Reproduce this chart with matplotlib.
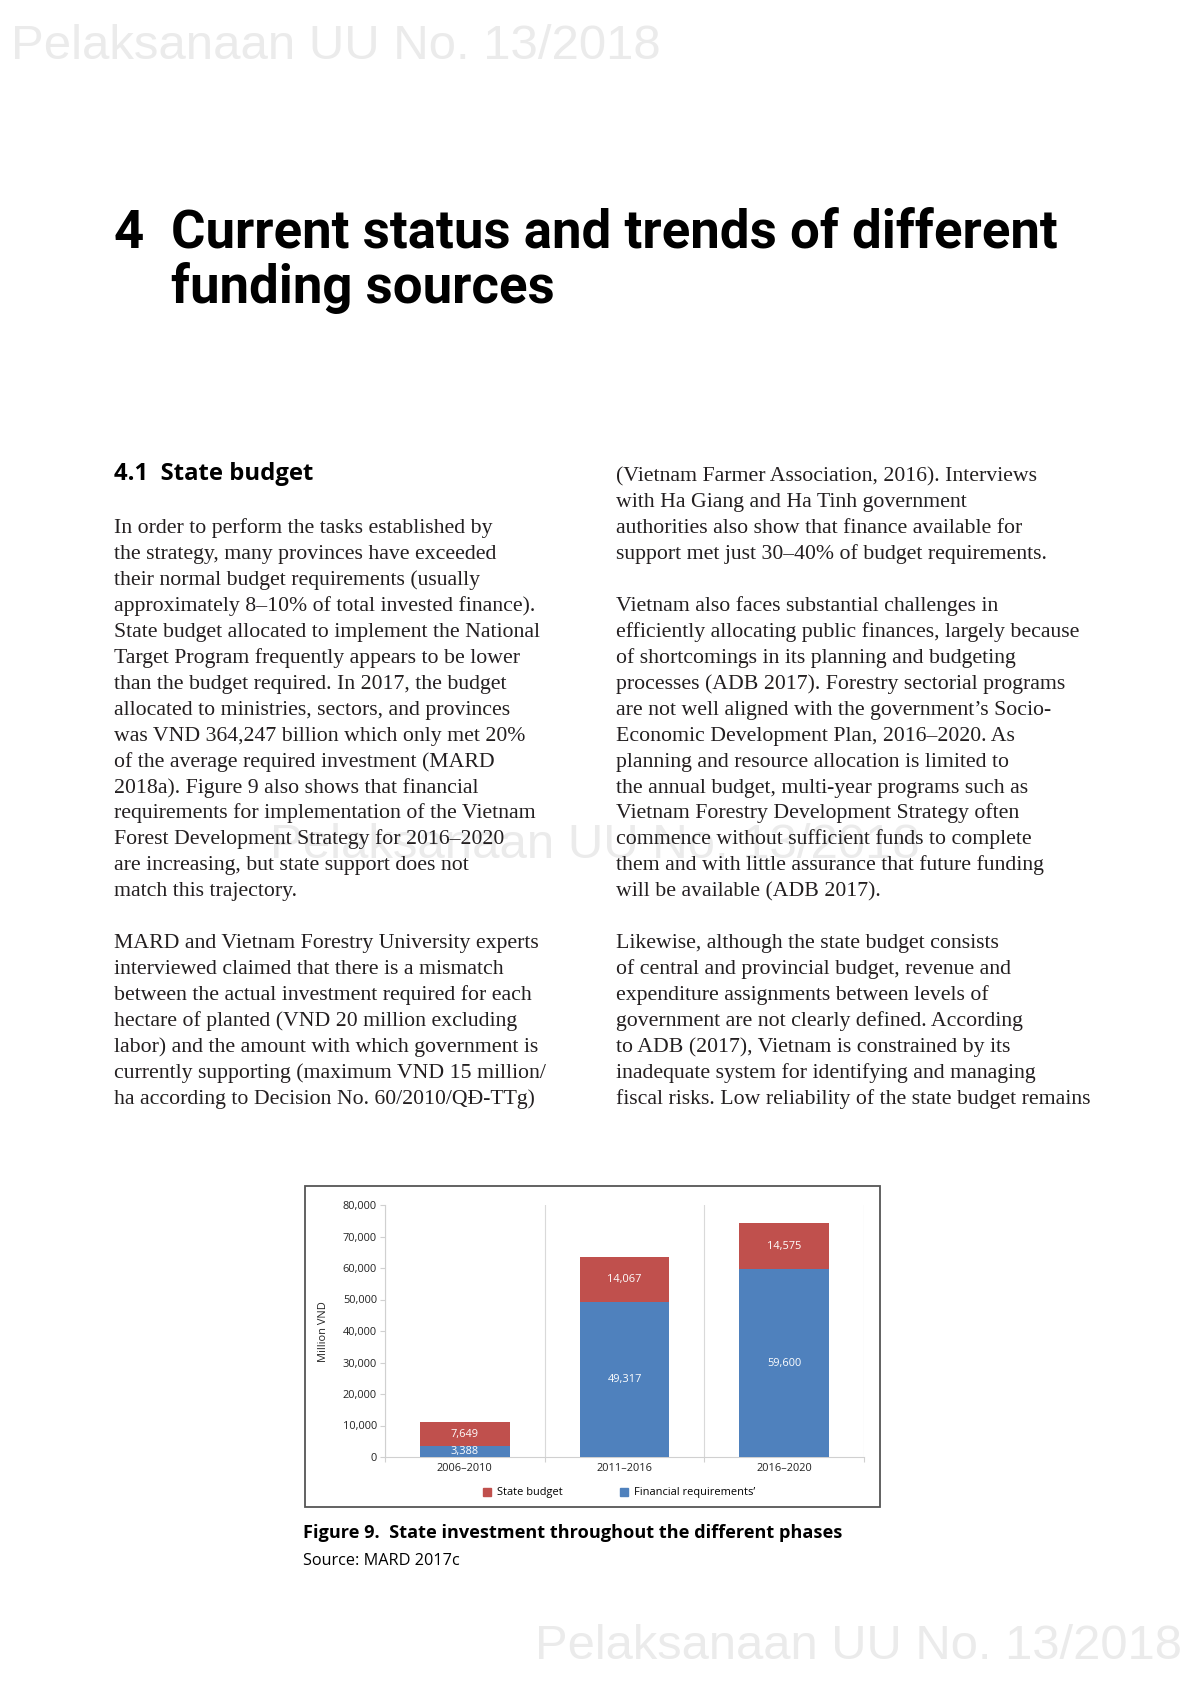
import numpy as np
import matplotlib
matplotlib.use("Agg")
import matplotlib.pyplot as plt
from matplotlib import font_manager as fm
from matplotlib.patches import Rectangle, Patch

# ---------------- data ----------------
phases = ["2006\u20132010", "2011\u20132016", "2016\u20132020"]
financial_req = [3388, 49317, 59600]   # blue (bottom)
state_budget = [7649, 14067, 14575]    # red (top)
y_ticks = [0, 10000, 20000, 30000, 40000, 50000, 60000, 70000, 80000]

left_col = [
    None,  # heading row
    "",
    "In order to perform the tasks established by",
    "the strategy, many provinces have exceeded",
    "their normal budget requirements (usually",
    "approximately 8\u201310% of total invested finance).",
    "State budget allocated to implement the National",
    "Target Program frequently appears to be lower",
    "than the budget required. In 2017, the budget",
    "allocated to ministries, sectors, and provinces",
    "was VND 364,247 billion which only met 20%",
    "of the average required investment (MARD",
    "2018a). Figure 9 also shows that financial",
    "requirements for implementation of the Vietnam",
    "Forest Development Strategy for 2016\u20132020",
    "are increasing, but state support does not",
    "match this trajectory.",
    "",
    "MARD and Vietnam Forestry University experts",
    "interviewed claimed that there is a mismatch",
    "between the actual investment required for each",
    "hectare of planted (VND 20 million excluding",
    "labor) and the amount with which government is",
    "currently supporting (maximum VND 15 million/",
    "ha according to Decision No. 60/2010/Q\u0110-TTg)",
]
right_col = [
    "(Vietnam Farmer Association, 2016). Interviews",
    "with Ha Giang and Ha Tinh government",
    "authorities also show that finance available for",
    "support met just 30\u201340% of budget requirements.",
    "",
    "Vietnam also faces substantial challenges in",
    "efficiently allocating public finances, largely because",
    "of shortcomings in its planning and budgeting",
    "processes (ADB 2017). Forestry sectorial programs",
    "are not well aligned with the government\u2019s Socio-",
    "Economic Development Plan, 2016\u20132020. As",
    "planning and resource allocation is limited to",
    "the annual budget, multi-year programs such as",
    "Vietnam Forestry Development Strategy often",
    "commence without sufficient funds to complete",
    "them and with little assurance that future funding",
    "will be available (ADB 2017).",
    "",
    "Likewise, although the state budget consists",
    "of central and provincial budget, revenue and",
    "expenditure assignments between levels of",
    "government are not clearly defined. According",
    "to ADB (2017), Vietnam is constrained by its",
    "inadequate system for identifying and managing",
    "fiscal risks. Low reliability of the state budget remains",
]

WATERMARK = "Pelaksanaan UU No. 13/2018"
RED = "#C0504D"
BLUE = "#4F81BD"
TXT = "#231F20"
WM = "#EBEBEB"

# ---------------- fonts ----------------
names = {f.name for f in fm.fontManager.ttflist}
def pick(*cands):
    for c in cands:
        if c in names:
            return c
    return "DejaVu Sans"

title_font = pick("Liberation Sans Narrow", "Roboto", "DejaVu Sans")
head_font = pick("Open Sans", "Noto Sans", "DejaVu Sans")
serif_font = pick("Liberation Serif", "DejaVu Serif")
chart_font = pick("Open Sans", "Noto Sans", "Lato", "DejaVu Sans")
wm_font = pick("Liberation Sans", "DejaVu Sans")

W, H = 1191, 1684
fig = plt.figure(figsize=(W / 100, H / 100), dpi=100)
fig.patch.set_facecolor("white")
renderer = fig.canvas.get_renderer()


def P(x, y):
    return x / W, 1 - y / H


def put(s, x, y, size, family, weight="normal", color=TXT, zorder=2, **kw):
    return fig.text(*P(x, y), s, fontsize=size, family=family, weight=weight,
                    color=color, va="baseline", ha="left", zorder=zorder, **kw)


def fit(s, x0, x1, y, family, weight="normal", color=TXT, zorder=2, guess=20, **kw):
    t = put(s, x0, y, guess, family, weight, color, zorder, **kw)
    bb = t.get_window_extent(renderer)
    t.set_fontsize(guess * (x1 - x0) / bb.width)
    return t


def width_of(s, size, family, weight="normal"):
    t = put(s, 0, 0, size, family, weight)
    w = t.get_window_extent(renderer).width
    t.remove()
    return w

# ---------------- watermarks ----------------
fit(WATERMARK, 11, 660, 59, wm_font, color=WM, zorder=0)
fit(WATERMARK, 270, 920, 858, wm_font, color=WM, zorder=0)
fit(WATERMARK, 535, 1181, 1659, wm_font, color=WM, zorder=0)

# ---------------- title ----------------
t1 = fit("Current status and trends of different", 171, 1055, 248,
         title_font, weight="bold", color="black")
tsize = t1.get_fontsize()
put("4", 114, 248, tsize, title_font, weight="bold", color="black")
put("funding sources", 171, 303, tsize, title_font, weight="bold", color="black")

# ---------------- section heading ----------------
fit("4.1  State budget", 114, 313, 480, head_font, weight="bold", color="black")

# ---------------- body text ----------------
refs = [
    ("State budget allocated to implement the National", 437),
    ("fiscal risks. Low reliability of the state budget remains", 460),
    ("efficiently allocating public finances, largely because", 457),
    ("approximately 8\u201310% of total invested finance).", 426),
]
ratios = [tw / width_of(s, 10, serif_font) for s, tw in refs]
body_size = 10 * float(np.median(ratios))

y0, dy = 481, 25.96
for i, line in enumerate(left_col):
    if line:
        put(line, 114, y0 + i * dy, body_size, serif_font)
for i, line in enumerate(right_col):
    if line:
        put(line, 616, y0 + i * dy, body_size, serif_font)

# ---------------- chart frame ----------------
fig.patches.append(Rectangle(P(305, 1507), (880 - 305) / W, (1507 - 1186) / H,
                             transform=fig.transFigure, fill=False,
                             edgecolor="#555555", linewidth=1.3, zorder=1))

ax = fig.add_axes([385 / W, 1 - 1457 / H, (864 - 385) / W, (1457 - 1205) / H])
ax.set_facecolor("none")
x = np.arange(len(phases))
bw = 0.56
b1 = ax.bar(x, financial_req, width=bw, color=BLUE, label="Financial requirements\u2019", zorder=3)
b2 = ax.bar(x, state_budget, bottom=financial_req, width=bw, color=RED,
            label="State budget", zorder=3)
lbl_size = 7.9
ax.bar_label(b1, labels=[f"{v:,}" for v in financial_req], label_type="center",
             color="white", fontsize=lbl_size, family=chart_font)
ax.bar_label(b2, labels=[f"{v:,}" for v in state_budget], label_type="center",
             color="white", fontsize=lbl_size, family=chart_font)

ax.set_xlim(-0.5, len(phases) - 0.5)
ax.set_ylim(0, 80000)
ax.set_yticks(y_ticks)
ax.set_yticklabels([f"{v:,}" for v in y_ticks], family=chart_font, fontsize=lbl_size, color="#222222")
ax.set_xticks(np.arange(len(phases) + 1) - 0.5)
ax.set_xticklabels([])
ax.set_xticks(x, minor=True)
ax.set_xticklabels(phases, minor=True, family=chart_font, fontsize=lbl_size, color="#222222")
ax.tick_params(axis="x", which="major", length=3.8, color="#D0D0D0", width=0.8)
ax.tick_params(axis="x", which="minor", length=0, pad=4.6)
ax.tick_params(axis="y", length=3.8, color="#D0D0D0", width=0.8, pad=2)
ax.xaxis.grid(True, which="major", color="#D9D9D9", linewidth=0.8, zorder=0)
ax.set_axisbelow(True)
for s in ["top", "right"]:
    ax.spines[s].set_visible(False)
for s in ["left", "bottom"]:
    ax.spines[s].set_color("#D0D0D0")
    ax.spines[s].set_linewidth(0.8)

fig.text(*P(323, 1332), "Million VND", rotation=90, ha="center", va="center",
         family=chart_font, fontsize=lbl_size, color="#222222")

leg = ax.legend(handles=[Patch(color=RED, label="State budget"),
                         Patch(color=BLUE, label="Financial requirements\u2019")],
                loc="center", bbox_to_anchor=(*P(619, 1493),), bbox_transform=fig.transFigure,
                ncol=2, frameon=False, prop={"family": chart_font, "size": lbl_size},
                handlelength=0.75, handleheight=0.75, handletextpad=0.55,
                columnspacing=5.2, borderpad=0)

# ---------------- caption ----------------
fit("Figure 9.  State investment throughout the different phases", 303, 841, 1538,
    chart_font, weight="bold", color="black")
fit("Source: MARD 2017c", 303, 459, 1565, chart_font, color="black")

fig.savefig("out.png", dpi=100)
